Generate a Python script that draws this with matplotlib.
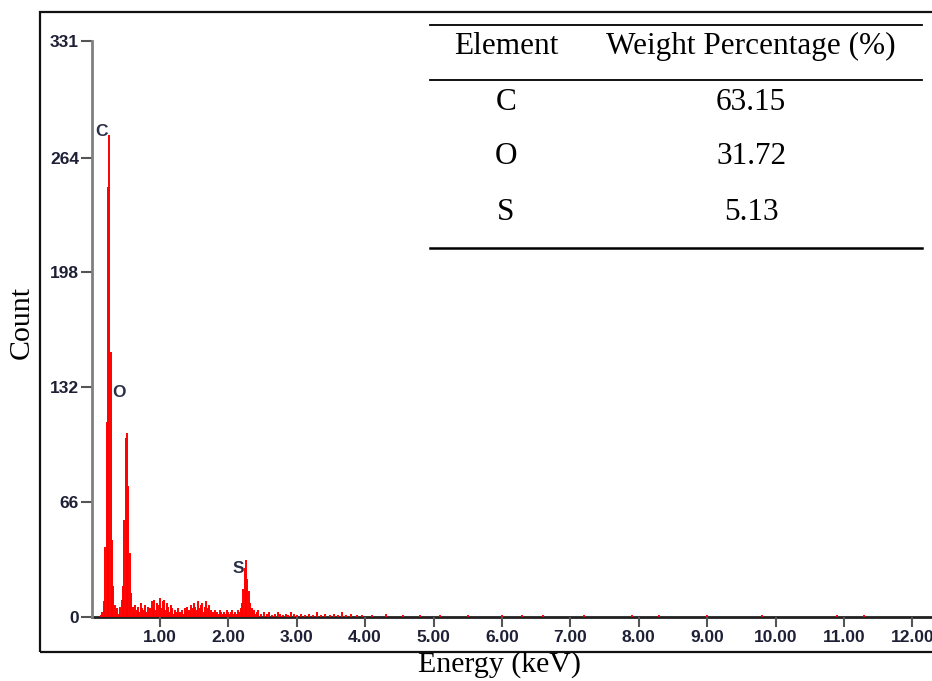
import matplotlib
matplotlib.use("Agg")
import matplotlib.pyplot as plt
from matplotlib.lines import Line2D
from matplotlib.patches import Rectangle

# ---------------- data ----------------
energy_kev = [
    0.14, 0.16, 0.18, 0.20, 0.22, 0.24, 0.26, 0.28, 0.30, 0.32, 0.34, 0.36, 0.38, 0.40,
    0.42, 0.44, 0.46, 0.48, 0.50, 0.52, 0.54, 0.56, 0.58, 0.60, 0.62, 0.64, 0.66, 0.68,
    0.70, 0.72, 0.74, 0.76, 0.78, 0.80, 0.82, 0.84, 0.86, 0.88, 0.90, 0.92, 0.94, 0.96,
    0.98, 1.00, 1.02, 1.04, 1.06, 1.08, 1.10, 1.12, 1.14, 1.16, 1.18, 1.20, 1.22, 1.24,
    1.26, 1.28, 1.30, 1.32, 1.34, 1.36, 1.38, 1.40, 1.42, 1.44, 1.46, 1.48, 1.50, 1.52,
    1.54, 1.56, 1.58, 1.60, 1.62, 1.64, 1.66, 1.68, 1.70, 1.72, 1.74, 1.76, 1.78, 1.80,
    1.82, 1.84, 1.86, 1.88, 1.90, 1.92, 1.94, 1.96, 1.98, 2.00, 2.02, 2.04, 2.06, 2.08,
    2.10, 2.12, 2.14, 2.16, 2.18, 2.20, 2.22, 2.24, 2.26, 2.28, 2.30, 2.32, 2.34, 2.36,
    2.38, 2.40, 2.42, 2.44, 2.48, 2.52, 2.56, 2.60, 2.64, 2.68, 2.72, 2.76, 2.80, 2.84,
    2.88, 2.92, 2.96, 3.00, 3.06, 3.12, 3.18, 3.24, 3.30, 3.36, 3.42, 3.48, 3.54, 3.60,
    3.66, 3.72, 3.80, 3.88, 3.96, 4.10, 4.30, 4.56, 4.80, 5.10, 5.50, 6.00, 6.30, 6.60,
    7.20, 7.90, 8.30, 9.00, 9.80, 10.90, 11.30,
]
counts = [
    1, 3, 9, 40, 112, 247, 277, 152, 44, 18, 7, 3, 5, 2,
    6, 10, 18, 56, 103, 106, 75, 37, 14, 6, 3, 7, 4, 6,
    3, 8, 5, 4, 7, 3, 6, 2, 5, 9, 6, 10, 4, 8,
    7, 11, 5, 9, 10, 4, 8, 6, 3, 7, 5, 2, 4, 3,
    5, 2, 3, 4, 2, 5, 3, 6, 4, 3, 7, 5, 8, 6,
    4, 9, 5, 7, 8, 3, 6, 9, 5, 7, 4, 2, 3, 4,
    2, 3, 2, 4, 3, 2, 3, 2, 4, 3, 2, 3, 4, 2,
    3, 2, 4, 3, 5, 8, 16, 28, 33, 22, 15, 8, 5, 3,
    4, 2, 3, 4, 2, 3, 2, 3, 1, 2, 3, 2, 1, 2,
    1, 3, 2, 1, 2, 1, 2, 1, 3, 1, 2, 1, 2, 1,
    3, 1, 2, 1, 1, 1, 2, 1, 1, 1, 1, 1, 1, 1,
    1, 1, 1, 1, 1, 1, 1,
]
y_ticks = [0, 66, 132, 198, 264, 331]
x_ticks = [1, 2, 3, 4, 5, 6, 7, 8, 9, 10, 11, 12]
x_ticklabels = ["1.00", "2.00", "3.00", "4.00", "5.00", "6.00", "7.00", "8.00",
                "9.00", "10.00", "11.00", "12.00"]
peak_labels = ["C", "O", "S"]
peak_label_pos = [(0.14, 279), (0.40, 129), (2.14, 28)]

table_header = ["Element", "Weight Percentage (%)"]
table_elements = ["C", "O", "S"]
table_weights = ["63.15", "31.72", "5.13"]

# ---------------- figure ----------------
W, H = 932, 681
fig = plt.figure(figsize=(W / 100, H / 100), dpi=100)
fig.patch.set_facecolor("white")

def fx(x):
    return x / W

def fy(y):
    return 1 - y / H

# main axes: left spine at x=91, x=0 at y=617, y=331 at y=41
ax_left, ax_right, ax_top, ax_bot = 91.5, 932, 41, 617
ax = fig.add_axes([fx(ax_left), fy(ax_bot), (ax_right - ax_left) / W, (ax_bot - ax_top) / H])
ax.set_xlim(0, (ax_right - ax_left) / 68.4)
ax.set_ylim(0, 331)

ax.vlines(energy_kev, 0, counts, colors="#ff0000", linewidth=1.4)

for s in ["top", "right"]:
    ax.spines[s].set_visible(False)
ax.spines["left"].set_color("#808080")
ax.spines["left"].set_linewidth(2.0)
ax.spines["bottom"].set_color("#202020")
ax.spines["bottom"].set_linewidth(2.0)
ax.spines["bottom"].set_zorder(0.5)

tick_font = dict(family=["Liberation Sans", "DejaVu Sans"], weight="bold", size=12.5)
ax.set_yticks(y_ticks)
ax.set_yticklabels([str(v) for v in y_ticks], color="#1e2035", fontdict=tick_font)
ax.set_xticks(x_ticks)
ax.set_xticklabels(x_ticklabels, color="#1e2035", fontdict=tick_font)
ax.tick_params(axis="y", direction="out", length=8, width=1.5, color="#555555", pad=1)
ax.tick_params(axis="x", direction="out", length=7, width=1.5, color="#555555", pad=2)

for lab, (ex, cy) in zip(peak_labels, peak_label_pos):
    ax.text(ex, cy, lab, ha="center", va="center", color="#2a3048",
            fontsize=12.5, fontweight="bold", family=["Liberation Sans", "DejaVu Sans"])

# axis titles
serif = ["Liberation Serif", "DejaVu Serif"]
fig.text(fx(500), fy(665), "Energy (keV)", ha="center", va="center", fontsize=21.5, family=serif)
fig.text(fx(22), fy(322), "Count", ha="center", va="center", rotation=90, fontsize=21.5, family=serif)

# outer frame
fig.add_artist(Rectangle((fx(40), fy(652)), (W + 10 - 40) / W, (652 - 12) / H,
                         transform=fig.transFigure, fill=False, edgecolor="#111111",
                         linewidth=1.6, clip_on=False))

# table inset
for yl, lw in [(25, 1.3), (80, 1.3), (248, 1.8)]:
    fig.add_artist(Line2D([fx(430), fx(922)], [fy(yl), fy(yl)], transform=fig.transFigure,
                          color="black", linewidth=lw))
col_x = [506, 751]
tfs = 22.5
fig.text(fx(col_x[0]), fy(46), table_header[0], ha="center", va="center", fontsize=tfs, family=serif)
fig.text(fx(col_x[1]), fy(46), table_header[1], ha="center", va="center", fontsize=tfs, family=serif)
row_y = [102, 157, 212]
for el, wt, yy in zip(table_elements, table_weights, row_y):
    fig.text(fx(col_x[0]), fy(yy), el, ha="center", va="center", fontsize=tfs, family=serif)
    fig.text(fx(col_x[1]), fy(yy), wt, ha="center", va="center", fontsize=tfs, family=serif)

fig.savefig("out.png", dpi=100, facecolor="white")
